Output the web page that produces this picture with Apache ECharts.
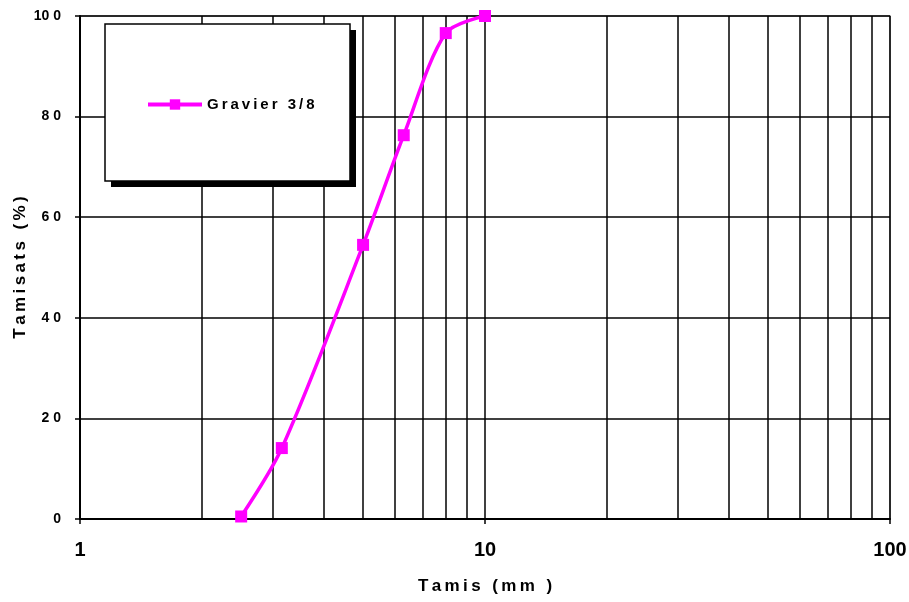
<!DOCTYPE html>
<html>
<head>
<meta charset="utf-8">
<script src="https://cdn.jsdelivr.net/npm/echarts@6/dist/echarts.min.js"></script>
<style>
  html, body { margin: 0; padding: 0; background: #fff; }
  #chart { width: 909px; height: 602px; }
</style>
</head>
<body>
<div id="chart"></div>
<script>
// Sieve sizes (mm) and cumulative passing (%)
const sieveSizes = [2.5, 3.15, 5, 6.3, 8, 10];
const passing = [0.5, 14.1, 54.5, 76.3, 96.6, 100];
const seriesName = 'Gravier 3/8';
// Intermediate vertical grid lines of the logarithmic axis
const minorGrid = [2, 3, 4, 5, 6, 7, 8, 9, 20, 30, 40, 50, 60, 70, 80, 90];

const FONT = '"Liberation Sans", Arial, sans-serif';
// letter-spaced text
const spaced = s => String(s).split('').join('\u2009');
// "8 0", "10 0" style for the percentage ticks
const pctLabel = v => { const s = String(v); return s.length > 1 ? s.slice(0, -1) + ' ' + s.slice(-1) : s; };

const chart = echarts.init(document.getElementById('chart'), null, { renderer: 'canvas' });

chart.setOption({
  backgroundColor: '#fff',
  animation: false,
  grid: {
    left: 80, right: 19, top: 16, bottom: 83,
    outerBoundsMode: 'none',
    containLabel: false,
    show: true, borderColor: '#888', borderWidth: 1.5
  },
  xAxis: {
    type: 'log', logBase: 10, min: 1, max: 100,
    name: spaced('Tamis (mm )'), nameLocation: 'middle', nameGap: 59,
    nameMoveOverlap: false,
    nameTextStyle: { fontFamily: FONT, fontWeight: 'bold', fontSize: 17, color: '#000' },
    axisLine: { lineStyle: { color: '#000', width: 2 } },
    axisTick: { show: true, length: 5, lineStyle: { color: '#000', width: 1.5 } },
    axisLabel: { fontFamily: FONT, fontWeight: 'bold', fontSize: 20, color: '#000', margin: 21 },
    splitLine: { show: true, lineStyle: { color: '#000', width: 1.5 } }
  },
  yAxis: {
    type: 'value', min: 0, max: 100, interval: 20,
    name: spaced('Tamisats (%)'), nameLocation: 'middle', nameGap: 51, nameRotate: 90,
    nameMoveOverlap: false,
    nameTextStyle: { fontFamily: FONT, fontWeight: 'bold', fontSize: 17, color: '#000' },
    axisLine: { show: true, lineStyle: { color: '#000', width: 2 } },
    axisTick: { show: true, length: 5, lineStyle: { color: '#000', width: 1.5 } },
    axisLabel: {
      fontFamily: FONT, fontWeight: 'bold', fontSize: 14, color: '#000', margin: 19,
      formatter: v => pctLabel(v)
    },
    splitLine: { show: true, lineStyle: { color: '#000', width: 1.5 } }
  },
  legend: {
    data: [seriesName],
    left: 141, top: 92,
    itemWidth: 54, itemHeight: 13, itemGap: 5,
    z: 20,
    lineStyle: { width: 4 },
    formatter: name => spaced(name),
    textStyle: { fontFamily: FONT, fontWeight: 'bold', fontSize: 15, color: '#000' }
  },
  graphic: [
    { type: 'rect', z: 10, shape: { x: 111, y: 30, width: 245, height: 157 },
      style: { fill: '#000' }, silent: true },
    { type: 'rect', z: 11, shape: { x: 105, y: 24, width: 245, height: 157 },
      style: { fill: '#fff', stroke: '#000', lineWidth: 1.5 }, silent: true }
  ],
  series: [
    {
      name: 'grid-minor',
      type: 'line',
      data: [],
      silent: true,
      z: 1,
      markLine: {
        silent: true,
        symbol: ['none', 'none'],
        label: { show: false },
        lineStyle: { color: '#000', width: 1.5, type: 'solid' },
        data: minorGrid.map(v => ({ xAxis: v }))
      }
    },
    {
      name: seriesName,
      type: 'line',
      z: 5,
      data: sieveSizes.map((x, i) => [x, passing[i]]),
      smooth: 0.3,
      symbol: 'rect',
      symbolSize: 12,
      lineStyle: { color: '#ff00ff', width: 3.5 },
      itemStyle: { color: '#ff00ff' }
    }
  ]
});
</script>
</body>
</html>
